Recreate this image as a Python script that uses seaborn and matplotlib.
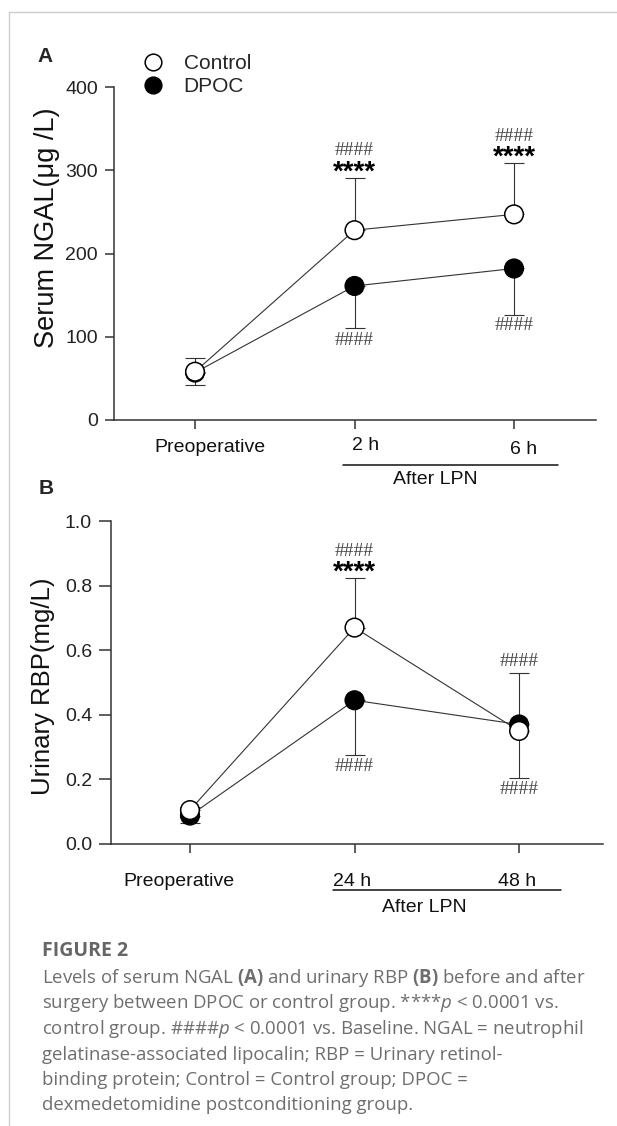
import numpy as np
import pandas as pd
import matplotlib
matplotlib.use("Agg")
import matplotlib.pyplot as plt
from matplotlib.lines import Line2D
import seaborn as sns

# -------------------------------- DATA --------------------------------

groups = ["DPOC", "Control"]   # DPOC first so the open Control circles sit on top

ngal_times = ["Preoperative", "2 h", "6 h"]
ngal_control = [58, 228, 247]
ngal_control_up = [17, 63, 62]
ngal_dpoc = [57, 161, 182]
ngal_dpoc_down = [15, 50, 56]

rbp_times = ["Preoperative", "24 h", "48 h"]
rbp_control = [0.105, 0.67, 0.35]
rbp_control_up = [0.01, 0.155, 0.18]
rbp_dpoc = [0.088, 0.445, 0.37]
rbp_dpoc_down = [0.023, 0.17, 0.165]

# significance marks: (time index, y value, text)
ngal_marks = [(1, 324, "####"), (1, 297, "****"), (2, 340, "####"),
              (2, 315, "****"), (1, 96, "####"), (2, 114, "####")]
rbp_marks = [(1, 0.907, "####"), (1, 0.839, "****"), (2, 0.564, "####"),
             (1, 0.239, "####"), (2, 0.170, "####")]

caption_title = "FIGURE 2"
caption_lines = [
    r"Levels of serum NGAL $\mathbf{(A)}$ and urinary RBP $\mathbf{(B)}$ before and after",
    r"surgery between DPOC or control group. ****$\mathit{p}$ < 0.0001 vs.",
    r"control group. ####$\mathit{p}$ < 0.0001 vs. Baseline. NGAL = neutrophil",
    "gelatinase-associated lipocalin; RBP = Urinary retinol-",
    "binding protein; Control = Control group; DPOC =",
    "dexmedetomidine postconditioning group.",
]

# ------------------------------ STYLE ---------------------------------

sns.set_style("ticks")
plt.rcParams["font.family"] = ["Liberation Sans", "DejaVu Sans"]
plt.rcParams["mathtext.fontset"] = "custom"
plt.rcParams["mathtext.rm"] = "Open Sans"
plt.rcParams["mathtext.it"] = "Open Sans:italic"
plt.rcParams["mathtext.bf"] = "Open Sans:bold"

AX = "#333333"
W, H = 617, 1126
fig = plt.figure(figsize=(W / 100, H / 100), dpi=100)


def px_rect(left, top, right, bottom):
    return [left / W, 1 - bottom / H, (right - left) / W, (bottom - top) / H]


def draw_panel(ax, times, ctrl, ctrl_up, dpoc, dpoc_down, marks, ylim, yticks, fmt,
               xlim, lab_off, line_span, line_dy, after_x, after_dy, ytick_len):
    x = np.arange(len(times))
    df = pd.DataFrame({
        "x": np.concatenate([x, x]),
        "value": dpoc + ctrl,
        "group": ["DPOC"] * len(x) + ["Control"] * len(x),
    })
    # error bars (Control upward, DPOC downward)
    ax.errorbar(x, ctrl, yerr=[np.zeros(len(x)), ctrl_up], fmt="none",
                ecolor=AX, elinewidth=0.8, capsize=7, capthick=0.8, zorder=1)
    ax.errorbar(x, dpoc, yerr=[dpoc_down, np.zeros(len(x))], fmt="none",
                ecolor=AX, elinewidth=0.8, capsize=7, capthick=0.8, zorder=1)
    sns.lineplot(data=df, x="x", y="value", hue="group", hue_order=groups,
                 palette={"Control": AX, "DPOC": AX}, linewidth=0.8,
                 legend=False, ax=ax, zorder=2)
    sns.scatterplot(data=df, x="x", y="value", hue="group", hue_order=groups,
                    palette={"Control": "white", "DPOC": "black"},
                    edgecolor="black", linewidth=1.1, s=180, legend=False,
                    ax=ax, zorder=3, clip_on=False)
    for xi, yv, t in marks:
        if t.startswith("#"):
            ax.text(xi, yv, t, ha="center", va="center", fontsize=14,
                    family="Liberation Serif", color="#444444")
        else:
            ax.text(xi, yv, t, ha="center", va="center", fontsize=20,
                    fontweight="bold", color="black")

    ax.set_xlim(*xlim)
    ax.set_ylim(*ylim)
    ax.set_yticks(yticks)
    ax.set_yticklabels([fmt.format(v) for v in yticks])
    ax.set_xticks(x)
    ax.set_xticklabels([])
    ax.set_xlabel("")
    ax.set_ylabel("")
    sns.despine(ax=ax)
    for s in ["left", "bottom"]:
        ax.spines[s].set_color(AX)
        ax.spines[s].set_linewidth(1.1)
    ax.tick_params(axis="x", length=6.5, width=1.1, color=AX)
    ax.tick_params(axis="y", length=ytick_len, width=1.1, color=AX,
                   labelsize=14, pad=5, labelcolor="#222222")

    # category labels below the axis (pixel offsets)
    for xi, t, (dx, dy) in zip(x, times, lab_off):
        ax.annotate(t, xy=(xi, 0), xycoords=("data", "axes fraction"),
                    xytext=(dx * 0.72, -dy * 0.72), textcoords="offset points",
                    ha="center", va="center", fontsize=14, color="#111111")
    axh = ax.get_position().height * H
    ax.plot(line_span, [-line_dy / axh] * 2, color="#111111", lw=1.1,
            transform=ax.get_xaxis_transform(), clip_on=False)
    ax.annotate("After LPN", xy=(after_x, 0), xycoords=("data", "axes fraction"),
                xytext=(0, -after_dy * 0.72), textcoords="offset points",
                ha="center", va="center", fontsize=14, color="#111111")


# ------------------------------ PANEL A -------------------------------

ax_a = fig.add_axes(px_rect(114, 87, 596, 420))
draw_panel(ax_a, ngal_times, ngal_control, ngal_control_up, ngal_dpoc, ngal_dpoc_down,
           ngal_marks, (0, 400), [0, 100, 200, 300, 400], "{:.0f}",
           (-0.508, 2.514), [(15, 27), (11, 25), (10, 30)],
           [0.928, 2.276], 45, 1.505, 59, 6.5)
fig.text(47 / W, 1 - 228 / H, "Serum NGAL(\u03bcg /L)", rotation=90,
         ha="center", va="center", fontsize=19.5, color="#111111")
fig.text(45 / W, 1 - 57 / H, "A", ha="center", va="center", fontsize=15,
         fontweight="bold")

legend_handles = [
    Line2D([], [], marker="o", ls="none", ms=12, mfc="white", mec="black", mew=1.1),
    Line2D([], [], marker="o", ls="none", ms=12, mfc="black", mec="black", mew=1.1),
]
ax_a.legend(legend_handles, ["Control", "DPOC"], loc="upper left",
            bbox_to_anchor=(143 / W, 1 - 54 / H), bbox_transform=fig.transFigure,
            frameon=False, fontsize=15, handlelength=1.0, handletextpad=0.95,
            borderpad=0, borderaxespad=0, labelspacing=0.2)

# ------------------------------ PANEL B -------------------------------

ax_b = fig.add_axes(px_rect(111, 521, 603, 844))
draw_panel(ax_b, rbp_times, rbp_control, rbp_control_up, rbp_dpoc, rbp_dpoc_down,
           rbp_marks, (0, 1.0), [0, 0.2, 0.4, 0.6, 0.8, 1.0], "{:.1f}",
           (-0.48, 2.51), [(-11, 38), (-2, 37), (-2, 37)],
           [0.869, 2.255], 46, 1.422, 63, 8.6)
fig.text(43 / W, 1 - 686 / H, "Urinary RBP(mg/L)", rotation=90,
         ha="center", va="center", fontsize=18.5, color="#111111")
fig.text(46 / W, 1 - 489 / H, "B", ha="center", va="center", fontsize=15,
         fontweight="bold")

# ------------------------------ CAPTION -------------------------------

fig.text(42 / W, 1 - 951 / H, caption_title, ha="left", va="center",
         fontsize=14, family="Open Sans", fontweight="bold", color="#666666")
for i, line in enumerate(caption_lines):
    fig.text(42 / W, 1 - (978 + 25.5 * i) / H, line, ha="left", va="center",
             fontsize=13.4, family="Open Sans", color="#6e6e6e")

# page frame lines
fig.add_artist(Line2D([9 / W, 9 / W], [0, 1 - 12 / H], color="#cccccc", lw=1.0))
fig.add_artist(Line2D([9 / W, 1], [1 - 12 / H, 1 - 12 / H], color="#cccccc", lw=1.0))

fig.savefig("out.png", dpi=100)
